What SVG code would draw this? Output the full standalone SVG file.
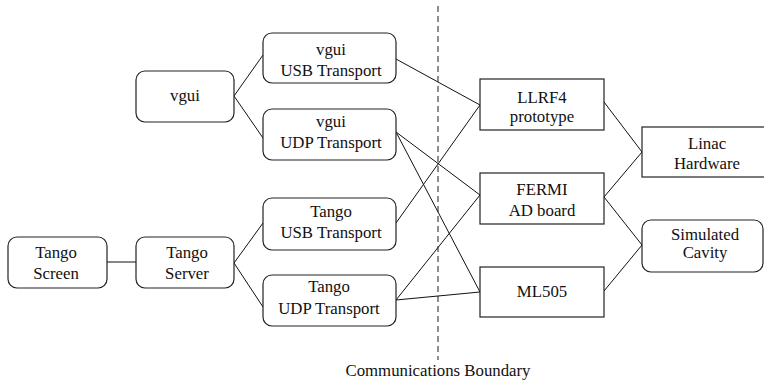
<svg xmlns="http://www.w3.org/2000/svg" width="764" height="380" viewBox="0 0 764 380">
<style>
.box{fill:#fff;stroke:#222;stroke-width:1.2}
.t{font-family:'Liberation Serif','Times New Roman','DejaVu Serif',serif;font-size:16.8px;fill:#111;text-anchor:middle}
.c{stroke:#111;stroke-width:1;fill:none}
</style>
<rect width="764" height="380" fill="#fff"/>
<line x1="438" y1="6" x2="438" y2="360" stroke="#444" stroke-width="1.2" stroke-dasharray="6,4"/>
<text class="t" x="438" y="376" font-family="Liberation Serif, serif">Communications Boundary</text>
<g id="connectors">
<line class="c" x1="234" y1="96" x2="263" y2="55"/>
<line class="c" x1="234" y1="96" x2="263" y2="138"/>
<line class="c" x1="107" y1="262" x2="136" y2="262"/>
<line class="c" x1="234" y1="263" x2="263" y2="223"/>
<line class="c" x1="234" y1="263" x2="263" y2="307"/>
<line class="c" x1="396" y1="59" x2="480" y2="105"/>
<line class="c" x1="396" y1="132" x2="480" y2="195"/>
<line class="c" x1="396" y1="132" x2="480" y2="292"/>
<line class="c" x1="396" y1="223" x2="480" y2="105"/>
<line class="c" x1="396" y1="300" x2="480" y2="195"/>
<line class="c" x1="396" y1="300" x2="480" y2="292"/>
<line class="c" x1="604" y1="102" x2="642" y2="152"/>
<line class="c" x1="604" y1="197" x2="642" y2="152"/>
<line class="c" x1="604" y1="197" x2="642" y2="245"/>
<line class="c" x1="604" y1="291" x2="642" y2="245"/>
</g>
<g id="vgui"><rect class="box" x="136" y="71" width="98" height="51" rx="9"/><text class="t" x="185" y="101">vgui</text></g>
<g id="vgui-usb"><rect class="box" x="263" y="33" width="133" height="50" rx="9"/><text class="t" x="331" y="55">vgui</text><text class="t" x="331" y="76">USB Transport</text></g>
<g id="vgui-udp"><rect class="box" x="263" y="109" width="133" height="51" rx="9"/><text class="t" x="331" y="127">vgui</text><text class="t" x="331" y="148">UDP Transport</text></g>
<g id="tango-screen"><rect class="box" x="8" y="237" width="99" height="51" rx="9"/><text class="t" x="56" y="258">Tango</text><text class="t" x="56" y="279">Screen</text></g>
<g id="tango-server"><rect class="box" x="136" y="237" width="98" height="51" rx="9"/><text class="t" x="187" y="258">Tango</text><text class="t" x="187" y="279">Server</text></g>
<g id="tango-usb"><rect class="box" x="263" y="198" width="133" height="52" rx="9"/><text class="t" x="331" y="217">Tango</text><text class="t" x="331" y="238">USB Transport</text></g>
<g id="tango-udp"><rect class="box" x="263" y="275" width="133" height="51" rx="9"/><text class="t" x="329" y="292">Tango</text><text class="t" x="329" y="314">UDP Transport</text></g>
<g id="llrf4"><rect class="box" x="480" y="79" width="124" height="51"/><text class="t" x="542" y="103">LLRF4</text><text class="t" x="542" y="122">prototype</text></g>
<g id="fermi"><rect class="box" x="480" y="173" width="124" height="51"/><text class="t" x="542" y="195">FERMI</text><text class="t" x="542" y="216">AD board</text></g>
<g id="ml505"><rect class="box" x="480" y="267" width="124" height="50"/><text class="t" x="542" y="297">ML505</text></g>
<g id="linac"><rect class="box" x="642" y="127" width="130" height="50"/><text class="t" x="707" y="149">Linac</text><text class="t" x="707" y="169">Hardware</text></g>
<g id="sim-cavity"><rect class="box" x="642" y="220" width="121" height="52" rx="9"/><text class="t" x="705" y="240">Simulated</text><text class="t" x="705" y="258">Cavity</text></g>
</svg>
